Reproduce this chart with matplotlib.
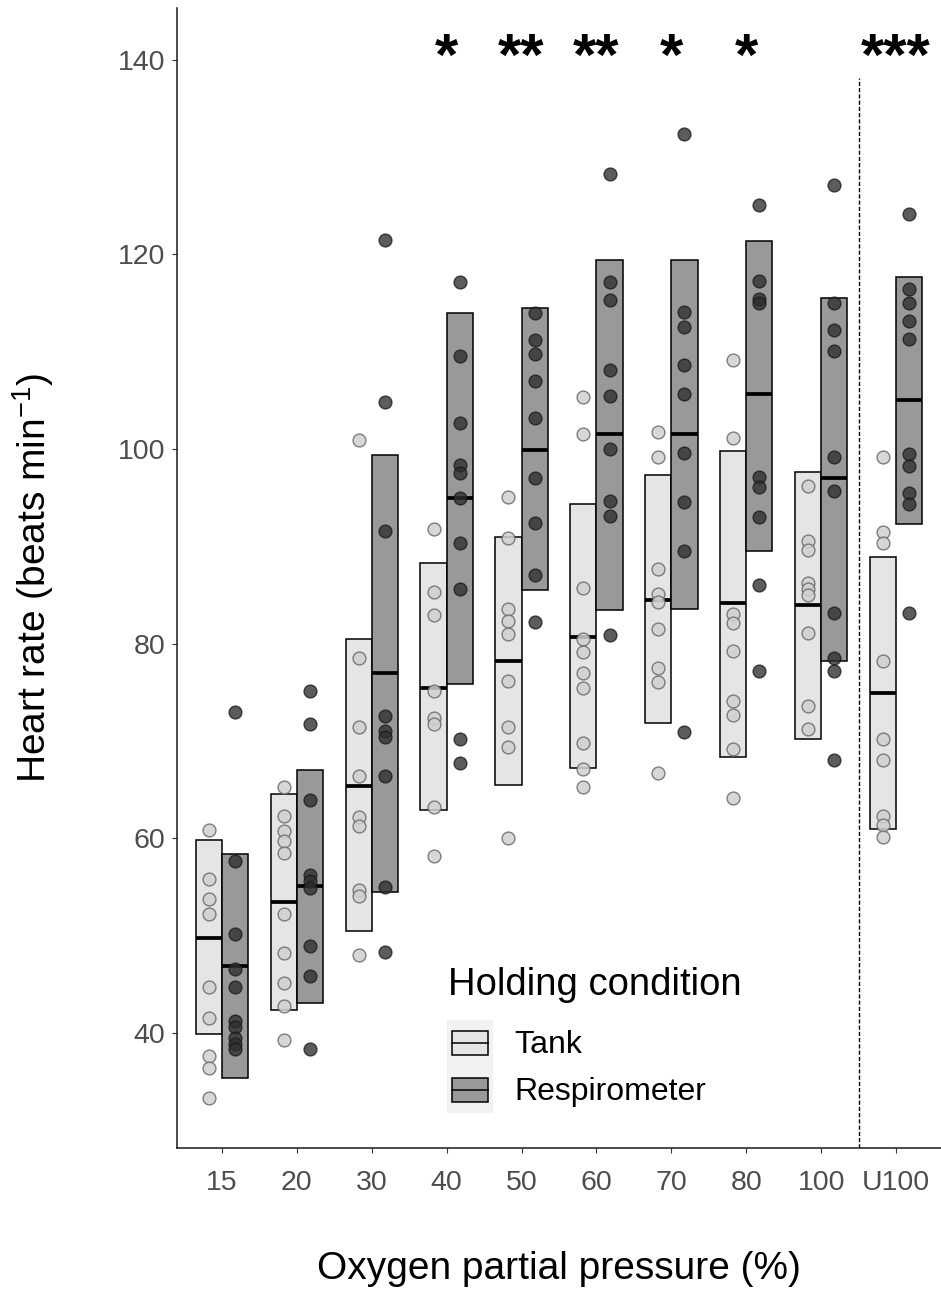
import matplotlib
matplotlib.use('Agg')
import matplotlib.pyplot as plt
from matplotlib.patches import Rectangle
from matplotlib.lines import Line2D
from matplotlib.legend_handler import HandlerBase
import numpy as np

plt.rcParams['font.family'] = ['Liberation Sans', 'DejaVu Sans']
plt.rcParams['mathtext.fontset'] = 'custom'
plt.rcParams['mathtext.rm'] = 'Liberation Sans'
plt.rcParams['mathtext.it'] = 'Liberation Sans:italic'
plt.rcParams['mathtext.bf'] = 'Liberation Sans:bold'

# ---------------- data ----------------
categories = ["15", "20", "30", "40", "50", "60", "70", "80", "100", "U100"]

tank_mean = [49.8, 53.5, 65.4, 75.5, 78.2, 80.7, 84.5, 84.2, 84.0, 74.9]
tank_lower = [39.9, 42.4, 50.5, 62.9, 65.5, 67.2, 71.9, 68.4, 70.2, 61.0]
tank_upper = [59.8, 64.6, 80.5, 88.3, 91.0, 94.3, 97.3, 99.8, 97.6, 88.9]

resp_mean = [46.9, 55.1, 77.0, 95.0, 99.9, 101.5, 101.5, 105.6, 97.0, 105.0]
resp_lower = [35.4, 43.1, 54.5, 75.9, 85.5, 83.5, 83.6, 89.5, 78.2, 92.3]
resp_upper = [58.4, 67.0, 99.4, 114.0, 114.5, 119.4, 119.4, 121.4, 115.5, 117.7]

tank_points = [
    [60.9, 55.8, 53.8, 52.2, 44.7, 41.6, 37.6, 36.4, 33.3],
    [65.3, 62.3, 60.8, 59.7, 58.5, 52.2, 48.2, 45.1, 42.8, 39.3],
    [100.9, 78.5, 71.4, 66.4, 62.2, 61.3, 54.7, 54.1, 48.0],
    [91.8, 85.3, 83.0, 75.1, 72.4, 71.8, 63.2, 58.2],
    [95.1, 90.9, 83.6, 82.3, 81.0, 76.2, 71.4, 69.4, 60.0],
    [105.3, 101.5, 85.7, 80.5, 79.2, 77.0, 75.5, 69.8, 67.1, 65.3],
    [101.7, 99.2, 87.7, 85.1, 84.3, 81.5, 77.5, 76.1, 66.7],
    [109.1, 101.1, 83.1, 82.1, 79.3, 74.1, 72.7, 69.2, 64.2],
    [96.2, 90.6, 89.6, 86.2, 85.6, 85.0, 81.1, 73.6, 71.2],
    [99.2, 91.5, 90.3, 78.2, 70.2, 68.1, 62.3, 61.4, 60.1],
]

resp_points = [
    [73.0, 57.7, 50.2, 46.6, 44.7, 41.2, 40.6, 39.5, 38.9, 38.4],
    [75.1, 71.8, 63.9, 56.2, 55.6, 54.9, 49.0, 45.9, 38.4],
    [121.5, 104.8, 91.6, 72.6, 71.0, 70.4, 66.4, 55.0, 48.3],
    [117.2, 109.6, 102.7, 98.4, 97.5, 95.0, 90.3, 85.6, 70.2, 67.7],
    [114.0, 111.2, 109.8, 107.0, 103.2, 97.0, 92.4, 87.1, 82.2],
    [128.2, 117.2, 115.3, 108.1, 105.4, 100.0, 94.7, 93.1, 80.9],
    [132.4, 114.1, 112.5, 108.6, 105.6, 99.6, 94.6, 89.5, 70.9],
    [125.1, 117.3, 115.4, 115.0, 97.1, 96.1, 93.0, 86.0, 77.2],
    [127.1, 115.0, 112.2, 110.1, 99.2, 95.7, 83.2, 78.5, 77.2, 68.1],
    [124.1, 116.4, 115.0, 113.1, 111.3, 99.5, 98.3, 95.5, 94.3, 83.2],
]

stars = ["", "", "", "*", "**", "**", "*", "*", "", "***"]
group_labels = ["Tank", "Respirometer"]

# ---------------- style ----------------
TANK_FILL = '#e5e5e5'
RESP_FILL = '#999999'
W = 0.35

fig = plt.figure(figsize=(9.41, 12.95), dpi=100)
ax = fig.add_axes([177 / 941, 1 - 1148 / 1295, (941 - 177) / 941, (1148 - 8) / 1295])

x = np.arange(len(categories))
tank_lower_a = np.array(tank_lower)
resp_lower_a = np.array(resp_lower)

ax.bar(x - W, np.array(tank_upper) - tank_lower_a, bottom=tank_lower_a, width=W,
       align='edge', facecolor=TANK_FILL, edgecolor='black', linewidth=1.1, zorder=2)
ax.bar(x, np.array(resp_upper) - resp_lower_a, bottom=resp_lower_a, width=W,
       align='edge', facecolor=RESP_FILL, edgecolor='black', linewidth=1.1, zorder=2)
ax.hlines(tank_mean, x - W, x, color='black', linewidth=2.7, zorder=3)
ax.hlines(resp_mean, x, x + W, color='black', linewidth=2.7, zorder=3)

for i in range(len(categories)):
    tp = tank_points[i]
    rp = resp_points[i]
    ax.scatter(np.full(len(tp), i - W / 2), tp, s=85, facecolor='#d0d0d0',
               edgecolor='#6a6a6a', linewidth=1.0, alpha=0.85, zorder=4)
    ax.scatter(np.full(len(rp), i + W / 2), rp, s=85, facecolor='#2e2e2e',
               edgecolor='#1a1a1a', linewidth=1.0, alpha=0.78, zorder=4)

for i, s in enumerate(stars):
    if s:
        ax.text(i, 138.4, s, ha='center', va='baseline', fontsize=43,
                fontweight='bold', color='black', zorder=5)

ax.vlines(8.5, 28.2, 138.1, colors='black', linewidth=1.0,
          linestyles=(0, (3, 1.5)), zorder=5)

ax.set_xlim(-0.6, 9.6)
ax.set_ylim(28.2, 145.3)
ax.set_xticks(x)
ax.set_xticklabels(categories)
ax.set_yticks([40, 60, 80, 100, 120, 140])

for side in ['top', 'right']:
    ax.spines[side].set_visible(False)
for side in ['left', 'bottom']:
    ax.spines[side].set_linewidth(1.1)
    ax.spines[side].set_color('#1a1a1a')

ax.tick_params(axis='both', length=3.6, width=0.8, color='#333333',
               labelcolor='#4d4d4d', labelsize=20.5)
ax.tick_params(axis='x', pad=12)
ax.tick_params(axis='y', pad=5)

ax.set_xlabel('Oxygen partial pressure (%)', fontsize=28, color='black')
ax.xaxis.set_label_coords(0.5, (1148 - 1251) / 1140)
ax.set_ylabel('Heart rate (beats min$^{\\mathregular{-1}}$)', fontsize=28, color='black')
ax.yaxis.set_label_coords((56 - 177) / 764, 0.5)


class CrossbarHandler(HandlerBase):
    def create_artists(self, legend, orig_handle, xdescent, ydescent, width,
                       height, fontsize, trans):
        fc = orig_handle.get_facecolor()
        bg = Rectangle((-xdescent, -ydescent), width, height, facecolor='#f2f2f2',
                       edgecolor='none', transform=trans)
        bw, bh = width * 0.78, height * 0.52
        x0 = -xdescent + (width - bw) / 2
        y0 = -ydescent + (height - bh) / 2
        box = Rectangle((x0, y0), bw, bh, facecolor=fc, edgecolor='black',
                        linewidth=1.1, transform=trans)
        mid = Line2D([x0, x0 + bw], [y0 + bh / 2] * 2, color='black',
                     linewidth=1.1, transform=trans)
        return [bg, box, mid]


handles = [Rectangle((0, 0), 1, 1, facecolor=TANK_FILL),
           Rectangle((0, 0), 1, 1, facecolor=RESP_FILL)]
leg = ax.legend(handles, group_labels, loc='upper left',
                bbox_to_anchor=(447 / 941, 1 - 1020 / 1295),
                bbox_transform=fig.transFigure, frameon=False, fontsize=23,
                borderpad=0, borderaxespad=0, handlelength=1.44, handleheight=1.86,
                handletextpad=0.66, labelspacing=0.0,
                handler_map={Rectangle: CrossbarHandler()})
fig.text(448 / 941, 1 - 985 / 1295, 'Holding condition', ha='left', va='center',
         fontsize=27.5, color='black')

fig.savefig('out.png', dpi=100)
